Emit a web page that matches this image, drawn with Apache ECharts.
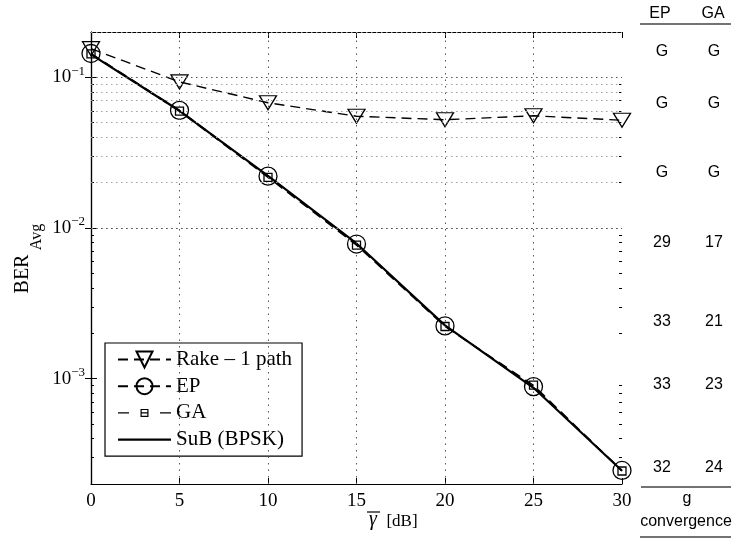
<!DOCTYPE html>
<html>
<head>
<meta charset="utf-8">
<script src="https://cdn.jsdelivr.net/npm/echarts@6/dist/echarts.min.js"></script>
<style>
html,body{margin:0;padding:0;background:#fff;}
#chart{width:741px;height:544px;}
</style>
</head>
<body>
<div id="chart"></div>
<script>
// ---- data ----
const snr = [0, 5, 10, 15, 20, 25, 30];
const rake = [0.155, 0.0933, 0.0678, 0.0552, 0.0523, 0.0556, 0.0519];
const ep = [0.144, 0.0604, 0.0221, 0.00783, 0.00224, 0.000886, 0.000246];
const ga = [0.143, 0.0596, 0.0217, 0.0077, 0.00222, 0.000905, 0.000244];
const sub = [0.142, 0.0600, 0.0222, 0.0079, 0.00226, 0.00087, 0.000245];
const seriesNames = ['Rake – 1 path', 'EP', 'GA', 'SuB (BPSK)'];
const xTickLabels = [0, 5, 10, 15, 20, 25, 30];
const yMajorTicks = [1e-3, 1e-2, 1e-1];
const tableHeader = ['EP', 'GA'];
const tableEP = ['G', 'G', 'G', '29', '33', '33', '32'];
const tableGA = ['G', 'G', 'G', '17', '21', '23', '24'];
const tableFooter = ['g', 'convergence'];

// ---- helpers ----
const yMin = 2e-4, yMax = 0.2;
const yMinor = [];
for (let e = -4; e <= -1; e++) {
  for (let m = 2; m <= 9; m++) {
    const v = +(m * Math.pow(10, e)).toPrecision(3);
    if (v >= yMin && v <= yMax) yMinor.push(v);
  }
}
const pair = (xs, ys) => xs.map((x, i) => [x, ys[i]]);
const serif = '"Liberation Serif", "DejaVu Serif", serif';
const sans = '"Liberation Sans", Arial, sans-serif';

const gridLines = [];
yMinor.forEach(v => gridLines.push({ yAxis: v, lineStyle: { color: '#a0a0a0', type: [1.5, 3.5], width: 1 } }));
yMajorTicks.forEach(v => gridLines.push({ yAxis: v, lineStyle: { color: '#555', type: [1.5, 3.5], width: 1 } }));
xTickLabels.slice(1, -1).forEach(v => gridLines.push({ xAxis: v, lineStyle: { color: '#555', type: [1.5, 5], width: 1 } }));

const markerStyle = { color: 'rgba(255,255,255,0)', borderColor: '#000', borderWidth: 1.3 };
const dash = [10, 6];

// legend icon for GA: dash, small open square with line through, dash
const gaIcon = 'path://' +
  'M0,3.3 H11 V4.7 H0 Z ' +
  'M42,3.3 H53 V4.7 H42 Z ' +
  'M22.5,0 H30.5 V1.2 H22.5 Z ' +
  'M22.5,6.8 H30.5 V8 H22.5 Z ' +
  'M22.5,0 H23.7 V8 H22.5 Z ' +
  'M29.3,0 H30.5 V8 H29.3 Z ' +
  'M23.7,3.4 H29.3 V4.6 H23.7 Z';

const chart = echarts.init(document.getElementById('chart'), null, { renderer: 'canvas' });

const baseX = { type: 'value', min: 0, max: 30, interval: 5 };
const baseY = { type: 'log', logBase: 10, min: yMin, max: yMax };
const centered = (text, x, y, font) => ({ type: 'text', x: x, y: y,
  style: { text: text, font: font, fill: '#000', textAlign: 'center', textVerticalAlign: 'middle' } });

const option = {
  backgroundColor: '#fff',
  animation: false,
  grid: { left: 91, right: 119, top: 32, bottom: 60, containLabel: false },
  xAxis: [
    Object.assign({}, baseX, {
      position: 'bottom',
      axisLine: { show: true, lineStyle: { color: '#000', width: 1.2 } },
      axisTick: { show: true, inside: true, length: 6, lineStyle: { color: '#000' } },
      axisLabel: { show: true, color: '#000', fontFamily: serif, fontSize: 19, margin: 8 },
      splitLine: { show: false }
    }),
    Object.assign({}, baseX, {
      position: 'top',
      axisLine: { show: true, lineStyle: { color: '#000', width: 1.2 } },
      axisTick: { show: true, inside: true, length: 6, lineStyle: { color: '#000' } },
      axisLabel: { show: false },
      splitLine: { show: false }
    })
  ],
  yAxis: [
    Object.assign({}, baseY, {
      position: 'left',
      axisLine: { show: true, lineStyle: { color: '#000', width: 1.2 } },
      axisTick: { show: true, inside: true, length: 6, customValues: yMajorTicks, lineStyle: { color: '#000' } },
      axisLabel: {
        show: true, customValues: yMajorTicks, margin: 6,
        formatter: v => '{b|10}{s|−' + Math.round(-Math.log10(v)) + '}',
        rich: {
          b: { fontFamily: serif, fontSize: 19, color: '#000' },
          s: { fontFamily: serif, fontSize: 13, color: '#000', verticalAlign: 'top', padding: [0, 0, 12, 0] }
        }
      },
      splitLine: { show: false }
    }),
    Object.assign({}, baseY, {
      position: 'right',
      axisLine: { show: true, lineStyle: { color: '#000', width: 1.2 } },
      axisTick: { show: true, inside: true, length: 6, customValues: yMajorTicks, lineStyle: { color: '#000' } },
      axisLabel: { show: false },
      splitLine: { show: false }
    }),
    Object.assign({}, baseY, {
      position: 'left',
      axisLine: { show: false },
      axisTick: { show: true, inside: true, length: 3, customValues: yMinor, lineStyle: { color: '#000' } },
      axisLabel: { show: false },
      splitLine: { show: false }
    }),
    Object.assign({}, baseY, {
      position: 'right',
      axisLine: { show: false },
      axisTick: { show: true, inside: true, length: 3, customValues: yMinor, lineStyle: { color: '#000' } },
      axisLabel: { show: false },
      splitLine: { show: false }
    })
  ],
  legend: {
    data: [
      { name: seriesNames[0] },
      { name: seriesNames[1] },
      { name: seriesNames[2], icon: gaIcon, itemStyle: { color: '#000', borderWidth: 0 } },
      { name: seriesNames[3], icon: 'path://M0,0 H53 V2.4 H0 Z' }
    ],
    orient: 'vertical',
    left: 105, top: 343,
    itemWidth: 53, itemHeight: 20, itemGap: 5.7,
    padding: [6, 10, 6, 12],
    backgroundColor: '#fff',
    borderColor: '#000', borderWidth: 1.2, borderRadius: 0,
    symbolRotate: 'inherit',
    textStyle: { fontFamily: serif, fontSize: 21, color: '#000' },
    selectedMode: false
  },
  graphic: [
    { type: 'text', rotation: Math.PI / 2, x: 23, y: 274,
      style: { text: 'BER', font: '20px ' + serif, fill: '#000', textAlign: 'center', textVerticalAlign: 'middle' } },
    { type: 'text', rotation: Math.PI / 2, x: 37, y: 237,
      style: { text: 'Avg', font: '16px ' + serif, fill: '#000', textAlign: 'center', textVerticalAlign: 'middle' } },
    centered('γ', 373, 520, 'italic 20px ' + serif),
    { type: 'line', shape: { x1: 367, y1: 512, x2: 380, y2: 512 }, style: { stroke: '#000', lineWidth: 1.2 } },
    centered('[dB]', 402, 522, '17px ' + serif),
    // table
    centered(tableHeader[0], 660, 14, '16px ' + sans),
    centered(tableHeader[1], 713, 14, '16px ' + sans),
    { type: 'line', shape: { x1: 640, y1: 24, x2: 731, y2: 24 }, style: { stroke: '#444', lineWidth: 1.5 } },
    { type: 'line', shape: { x1: 641, y1: 487, x2: 731, y2: 487 }, style: { stroke: '#444', lineWidth: 1.5 } },
    { type: 'line', shape: { x1: 640, y1: 537, x2: 731, y2: 537 }, style: { stroke: '#444', lineWidth: 1.5 } },
    centered(tableFooter[0], 687, 499, '16px ' + sans),
    centered(tableFooter[1], 686, 522, '16px ' + sans)
  ].concat((function () {
    const rowsY = [52, 104, 173, 243, 322, 385, 468];
    const out = [];
    rowsY.forEach((y, i) => {
      out.push(centered(tableEP[i], 662, y, '16px ' + sans));
      out.push(centered(tableGA[i], 714, y, '16px ' + sans));
    });
    return out;
  })()),
  series: [
    {
      name: 'grid', type: 'line', data: [], silent: true, z: 1,
      markLine: { silent: true, symbol: ['none', 'none'], label: { show: false }, animation: false, data: gridLines }
    },
    {
      name: seriesNames[0], type: 'line', data: pair(snr, rake), z: 3,
      symbol: 'triangle', symbolSize: [17, 14], symbolRotate: 180, showSymbol: true,
      itemStyle: markerStyle,
      lineStyle: { color: '#000', width: 1.4, type: dash },
      emphasis: { disabled: true }
    },
    {
      name: seriesNames[1], type: 'line', data: pair(snr, ep), z: 3,
      symbol: 'circle', symbolSize: 18, showSymbol: true,
      itemStyle: markerStyle,
      lineStyle: { color: '#000', width: 1.4, type: dash },
      emphasis: { disabled: true }
    },
    {
      name: seriesNames[2], type: 'line', data: pair(snr, ga), z: 3,
      symbol: 'rect', symbolSize: 8, showSymbol: true,
      itemStyle: markerStyle,
      lineStyle: { color: '#000', width: 1.4, type: dash },
      emphasis: { disabled: true }
    },
    {
      name: seriesNames[3], type: 'line', data: pair(snr, sub), z: 4,
      symbol: 'none', showSymbol: false,
      itemStyle: { color: '#000' },
      lineStyle: { color: '#000', width: 2.2, type: 'solid' },
      emphasis: { disabled: true }
    }
  ]
};
chart.setOption(option);
</script>
</body>
</html>
